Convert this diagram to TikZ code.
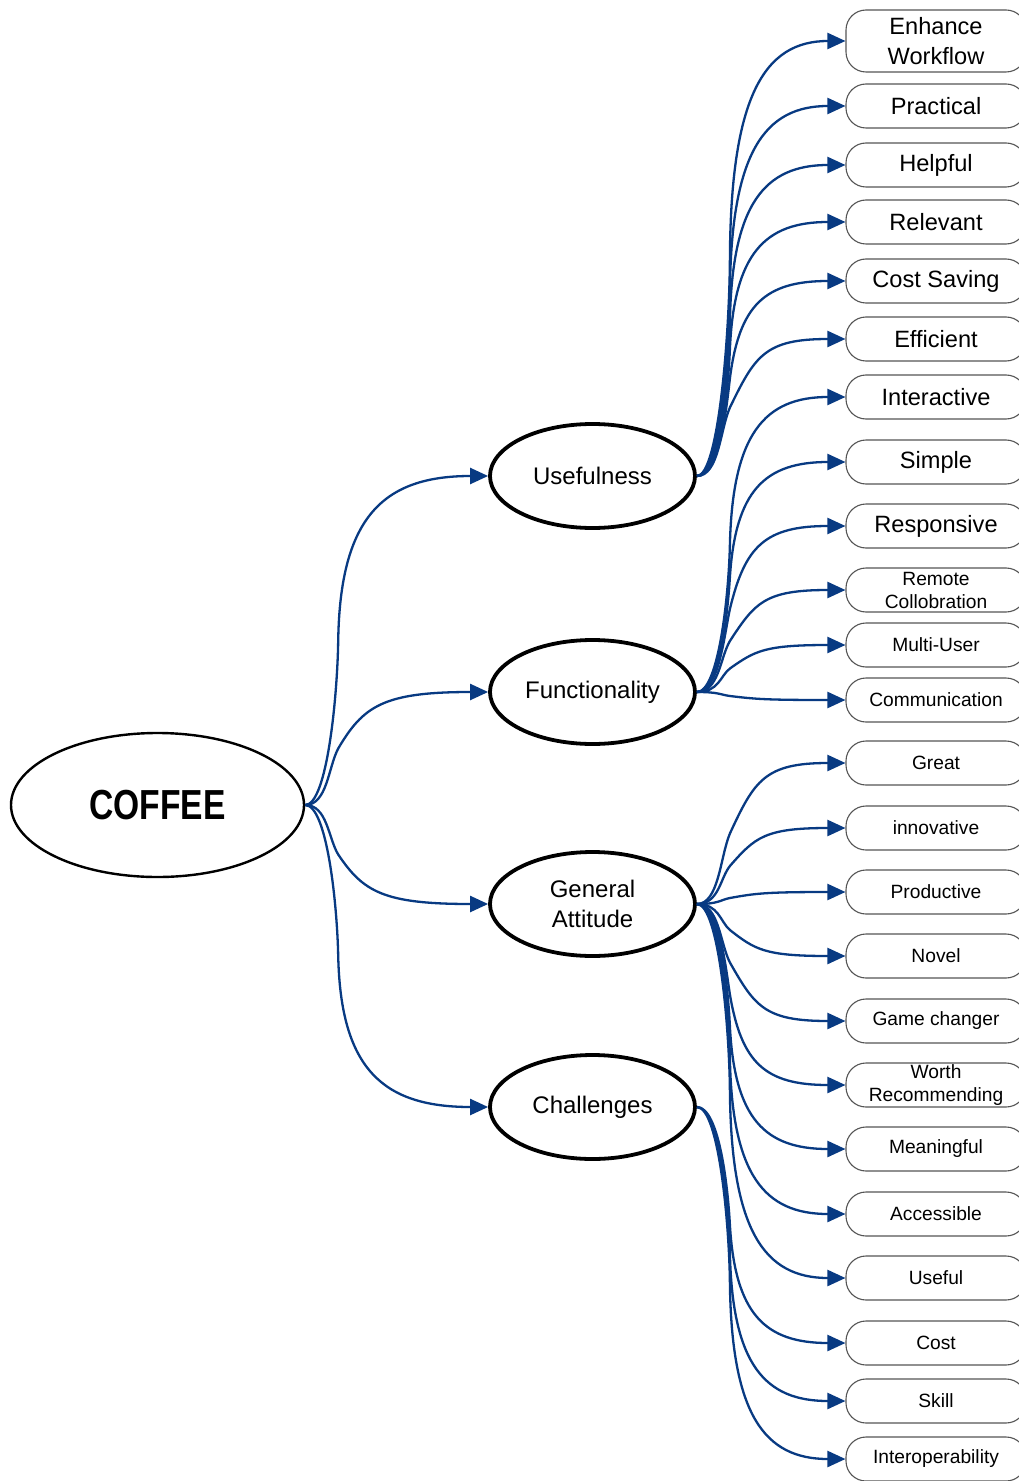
\documentclass[tikz,border=0pt]{standalone}
\usepackage{fontspec}
\setmainfont{Liberation Sans}
\usetikzlibrary{arrows.meta,shapes.geometric,calc}
\definecolor{edgeblue}{RGB}{8,58,130}
\definecolor{boxgray}{RGB}{85,85,85}
\begin{document}
\begin{tikzpicture}[x=0.5pt,y=-0.5pt,
  rootnode/.style={ellipse,draw=black,line width=1.2pt,minimum width=146.5pt,
    minimum height=72pt,inner sep=0pt},
  topic/.style={ellipse,draw=black,line width=1.9pt,minimum width=102.5pt,
    minimum height=52pt,inner sep=0pt,align=center,
    font=\fontsize{12}{15}\selectfont},
  leaf/.style={rectangle,rounded corners=10pt,draw=boxgray,line width=0.55pt,
    minimum width=90pt,minimum height=22pt,inner sep=0pt,align=center},
  bigleaf/.style={leaf,font=\fontsize{11.8}{15}\selectfont},
  smallleaf/.style={leaf,font=\fontsize{9.6}{11.5}\selectfont},
  % leaves horizontally, bends into a run 16.5pt to the right of the start,
  % then sweeps wider into the target; the run tilts for short drops only,
  % so short links become a smooth S while long ones stay upright
  branch/.style={draw=edgeblue,line width=1.15pt,-{Triangle[length=9pt,width=8pt]},
    to path={let \p1=(\tikztostart),\p2=(\tikztotarget) in
      .. controls ({\x1+11pt},\y1)
         and ({\x1+16.5pt-5pt*min(1,(70pt/(abs(\y2-\y1)+0.01pt))^3)},{\y1+(\y2-\y1)/3})
      .. ({\x1+16.5pt},{(\y1+\y2)/2})
      .. controls ({\x1+16.5pt+12.5pt*min(1,(70pt/(abs(\y2-\y1)+0.01pt))^3)},{\y1+0.875*(\y2-\y1)})
         and ({\x2-0.7*(\x2-\x1-16.5pt)},\y2) .. (\tikztotarget)}},
]
\useasboundingbox (0,0) rectangle (1018,1481);
\fill[white] (0,0) rectangle (1018,1481);

% centre and first level
\node[rootnode] (root) at (157.5,805)
  {\scalebox{0.8}[1]{\fontsize{21}{24}\selectfont\bfseries COFFEE}};
\node[topic] (use) at (592.5,476) {Usefulness};
\node[topic] (fun) at (592.5,692) {Functionality};
\node[topic] (gen) at (592.5,904) {General\\Attitude};
\node[topic] (cha) at (592.5,1107) {Challenges};

% Usefulness
\node[bigleaf,minimum height=31pt] (enh) at (936,41) {Enhance\\Workflow};
\node[bigleaf] (prac) at (936,106) {Practical};
\node[bigleaf] (help) at (936,165) {Helpful};
\node[bigleaf] (rel)  at (936,222) {Relevant};
\node[bigleaf] (csav) at (936,281) {Cost Saving};
\node[bigleaf] (eff)  at (936,339) {Efficient};
% Functionality
\node[bigleaf] (inter) at (936,397) {Interactive};
\node[bigleaf] (simp)  at (936,462) {Simple};
\node[bigleaf] (resp)  at (936,526) {Responsive};
\node[smallleaf] (remo)  at (936,590) {Remote\\Collobration};
\node[smallleaf] (multi) at (936,645) {Multi-User};
\node[smallleaf] (comm)  at (936,700) {Communication};
% General Attitude
\node[smallleaf] (great) at (936,763) {Great};
\node[smallleaf] (innov) at (936,828) {innovative};
\node[smallleaf] (prod)  at (936,892) {Productive};
\node[smallleaf] (novel) at (936,956) {Novel};
\node[smallleaf] (game)  at (936,1021) {Game changer};
\node[smallleaf] (worth) at (936,1085) {Worth\\Recommending};
\node[smallleaf] (mean)  at (936,1149) {Meaningful};
\node[smallleaf] (acc)   at (936,1214) {Accessible};
\node[smallleaf] (usef)  at (936,1278) {Useful};
% Challenges
\node[smallleaf] (cost)    at (936,1343) {Cost};
\node[smallleaf] (skill)   at (936,1401) {Skill};
\node[smallleaf] (interop) at (936,1459) {Interoperability};

% connectors
\foreach \t in {use,fun,gen,cha}
  \draw[branch] (root.east) to (\t.west);
\foreach \t in {enh,prac,help,rel,csav,eff}
  \draw[branch] (use.east) to (\t.west);
\foreach \t in {inter,simp,resp,remo,multi,comm}
  \draw[branch] (fun.east) to (\t.west);
\foreach \t in {great,innov,prod,novel,game,worth,mean,acc,usef}
  \draw[branch] (gen.east) to (\t.west);
\foreach \t in {cost,skill,interop}
  \draw[branch] (cha.east) to (\t.west);
\end{tikzpicture}
\end{document}
